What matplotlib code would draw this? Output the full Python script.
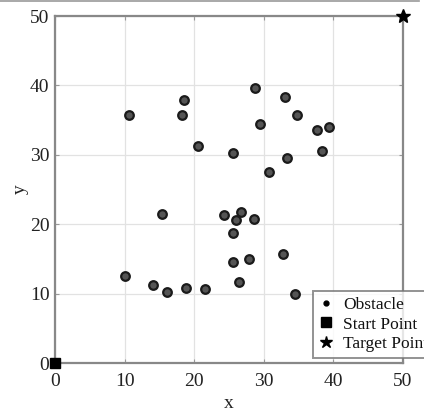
import matplotlib
matplotlib.use("Agg")
import matplotlib.pyplot as plt
from matplotlib.lines import Line2D

plt.rcParams['font.family'] = ['Liberation Serif', 'DejaVu Serif']

obs_x = [10.6, 18.5, 18.2, 20.6, 28.8, 33.0, 34.8, 29.5, 37.6, 39.3,
         38.4, 25.6, 33.4, 30.7, 15.4, 10.1, 14.1, 16.1, 18.8, 21.6,
         24.3, 26.7, 26.0, 28.6, 25.6, 32.8, 27.9, 25.6, 26.5, 34.5]
obs_y = [35.8, 37.85, 35.7, 31.2, 39.6, 38.3, 35.8, 34.4, 33.6, 34.0,
         30.6, 30.2, 29.5, 27.5, 21.4, 12.6, 11.2, 10.2, 10.85, 10.6,
         21.3, 21.7, 20.6, 20.8, 18.7, 15.7, 15.0, 14.5, 11.6, 10.0]
start = (0, 0)
target = (50, 50)
ticks = [0, 10, 20, 30, 40, 50]
legend_labels = ['Obstacle', 'Start Point', 'Target Point']

fig = plt.figure(figsize=(4.24, 4.12), dpi=100)
ax = fig.add_axes([55/424, 1-363/412, 348/424, 347/412])

ax.grid(True, color='#e2e2e2', linewidth=0.9)
ax.set_axisbelow(True)

ax.plot(obs_x, obs_y, linestyle='none', marker='o', markersize=6.2,
        markerfacecolor='#555555', markeredgecolor='#1a1a1a', markeredgewidth=1.6,
        clip_on=False, zorder=3)
ax.plot([start[0]], [start[1]], linestyle='none', marker='s', markersize=7,
        color='black', clip_on=False, zorder=4)
ax.plot([target[0]], [target[1]], linestyle='none', marker='*', markersize=10,
        color='black', clip_on=False, zorder=4)

ax.set_xlim(0, 50)
ax.set_ylim(0, 50)
ax.set_xticks(ticks)
ax.set_yticks(ticks)
ax.tick_params(direction='in', length=3, width=0.8, color='#999999',
               labelsize=14, top=True, right=True, labelcolor='#222222')
ax.tick_params(axis='x', pad=7)
ax.tick_params(axis='y', pad=4)
for s in ax.spines.values():
    s.set_color('#888888')
    s.set_linewidth(1.6)

ax.set_xlabel('x', fontsize=14, labelpad=3.5, color='#222222')
ax.set_ylabel('y', fontsize=14, labelpad=1, color='#222222')

handles = [
    Line2D([], [], linestyle='none', marker='o', markersize=3.5, color='black'),
    Line2D([], [], linestyle='none', marker='s', markersize=7, color='black'),
    Line2D([], [], linestyle='none', marker='*', markersize=9, color='black'),
]
leg = fig.legend(handles, legend_labels, loc='upper left',
                 bbox_to_anchor=(313/424, 1-291/412), fontsize=12.5,
                 frameon=True, fancybox=False, borderpad=0.35,
                 labelspacing=0.18, handlelength=0.8, handletextpad=0.6,
                 borderaxespad=0)
leg.get_frame().set_edgecolor('#777777')
leg.get_frame().set_linewidth(1.4)
for t in leg.get_texts():
    t.set_color('#111111')

fig.add_artist(Line2D([0, 419/424], [1-1/412, 1-1/412], color='#999999',
                      linewidth=1.2, transform=fig.transFigure))

fig.savefig('out.png', dpi=100)
